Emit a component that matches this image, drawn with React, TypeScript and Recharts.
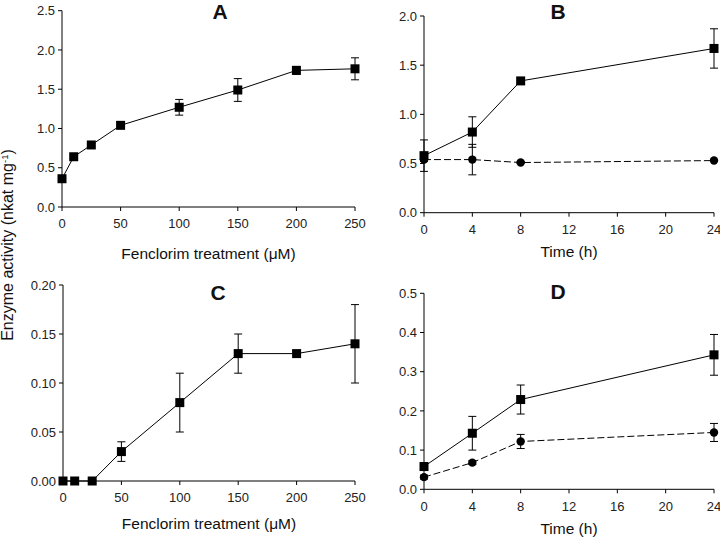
import React from 'react';
import { LineChart, Line, XAxis, YAxis, ErrorBar } from 'recharts';

// ---- Data ----
const doseX = [0, 10, 25, 50, 100, 150, 200, 250];
const doseTicks = [0, 50, 100, 150, 200, 250];
const activityA = [0.36, 0.64, 0.79, 1.04, 1.27, 1.49, 1.74, 1.76];
const errorA = [0.02, 0.02, 0.02, 0.04, 0.1, 0.145, 0.05, 0.14];
const activityC = [0, 0, 0, 0.03, 0.08, 0.13, 0.13, 0.14];
const errorC = [0, 0, 0, 0.01, 0.03, 0.02, 0, 0.04];

const timeX = [0, 4, 8, 24];
const timeTicks = [0, 4, 8, 12, 16, 20, 24];
const treatedB = [0.58, 0.82, 1.34, 1.67];
const treatedErrB = [0.16, 0.155, 0.03, 0.2];
const controlB = [0.54, 0.54, 0.51, 0.53];
const controlErrB = [0.02, 0.155, 0.01, 0.01];
const treatedD = [0.058, 0.143, 0.229, 0.343];
const treatedErrD = [0.01, 0.043, 0.037, 0.052];
const controlD = [0.031, 0.068, 0.122, 0.145];
const controlErrD = [0.005, 0.005, 0.018, 0.023];

const ticksA = [0, 0.5, 1.0, 1.5, 2.0, 2.5];
const ticksB = [0, 0.5, 1.0, 1.5, 2.0];
const ticksC = [0, 0.05, 0.1, 0.15, 0.2];
const ticksD = [0, 0.1, 0.2, 0.3, 0.4, 0.5];

const dataA = doseX.map((x, i) => ({ x, y: activityA[i], e: errorA[i] }));
const dataC = doseX.map((x, i) => ({ x, y: activityC[i], e: errorC[i] }));
const dataB = timeX.map((x, i) => ({ x, t: treatedB[i], te: treatedErrB[i], c: controlB[i], ce: controlErrB[i] }));
const dataD = timeX.map((x, i) => ({ x, t: treatedD[i], te: treatedErrD[i], c: controlD[i], ce: controlErrD[i] }));

const FONT = '"Liberation Sans", Arial, Helvetica, sans-serif';
const TICK = { fill: '#222', fontSize: 13, fontFamily: FONT };

const SquareDot = (props: any) => {
  const { cx, cy, index } = props;
  if (cx == null || cy == null) return <g key={`s${index}`} />;
  return <rect key={`s${index}`} x={cx - 4.5} y={cy - 4.5} width={9} height={9} fill="#000" />;
};

const CircleDot = (props: any) => {
  const { cx, cy, index } = props;
  if (cx == null || cy == null) return <g key={`c${index}`} />;
  return <circle key={`c${index}`} cx={cx} cy={cy} r={4.2} fill="#000" />;
};

type PanelProps = {
  left: number;
  top: number;
  plotLeft: number;
  plotRight: number;
  plotTop: number;
  plotBottom: number;
  data: any[];
  xDomain: [number, number];
  xTicks: number[];
  yDomain: [number, number];
  yTicks: number[];
  digits: number;
  children: React.ReactNode;
};

const W = 380;
const H = 268;

const Panel = (p: PanelProps) => (
  <div style={{ position: 'absolute', left: p.left, top: p.top, width: W, height: H }}>
    <LineChart
      width={W}
      height={H}
      data={p.data}
      margin={{ top: p.plotTop - p.top, right: p.left + W - p.plotRight, left: 0, bottom: 0 }}
    >
      <XAxis
        type="number"
        dataKey="x"
        domain={p.xDomain}
        ticks={p.xTicks}
        height={H - (p.plotBottom - p.top)}
        tick={TICK}
        tickSize={4}
        tickMargin={8}
        axisLine={{ stroke: '#000', strokeWidth: 1 }}
        tickLine={{ stroke: '#000', strokeWidth: 1 }}
        interval={0}
      />
      <YAxis
        type="number"
        domain={p.yDomain}
        ticks={p.yTicks}
        width={p.plotLeft - p.left}
        tick={TICK}
        tickSize={4}
        tickMargin={3}
        tickFormatter={(v: number) => v.toFixed(p.digits)}
        axisLine={{ stroke: '#000', strokeWidth: 1 }}
        tickLine={{ stroke: '#000', strokeWidth: 1 }}
        interval={0}
      />
      {p.children}
    </LineChart>
  </div>
);

const textBase: React.CSSProperties = {
  position: 'absolute',
  fontFamily: FONT,
  color: '#111',
  whiteSpace: 'nowrap',
  lineHeight: 1,
  transform: 'translate(-50%, -50%)',
};

const Txt = ({ x, y, size, bold, children }: { x: number; y: number; size: number; bold?: boolean; children: React.ReactNode }) => (
  <div style={{ ...textBase, left: x, top: y, fontSize: size, fontWeight: bold ? 700 : 400 }}>{children}</div>
);

export default function App() {
  return (
    <div style={{ position: 'absolute', left: 0, top: 0, width: 720, height: 538, background: '#fff', overflow: 'hidden' }}>
      {/* Panel A */}
      <Panel left={0} top={0} plotLeft={62} plotRight={355} plotTop={10.7} plotBottom={207}
        data={dataA} xDomain={[0, 250]} xTicks={doseTicks} yDomain={[0, 2.5]} yTicks={ticksA} digits={1}>
        <Line dataKey="y" stroke="#000" strokeWidth={1} dot={SquareDot} isAnimationActive={false}>
          <ErrorBar dataKey="e" width={4} stroke="#000" strokeWidth={1} direction="y" />
        </Line>
      </Panel>

      {/* Panel B */}
      <Panel left={360} top={0} plotLeft={424} plotRight={714} plotTop={16} plotBottom={212.7}
        data={dataB} xDomain={[0, 24]} xTicks={timeTicks} yDomain={[0, 2]} yTicks={ticksB} digits={1}>
        <Line dataKey="c" stroke="#000" strokeWidth={1} strokeDasharray="7 3" dot={CircleDot} isAnimationActive={false}>
          <ErrorBar dataKey="ce" width={4} stroke="#000" strokeWidth={1} direction="y" />
        </Line>
        <Line dataKey="t" stroke="#000" strokeWidth={1} dot={SquareDot} isAnimationActive={false}>
          <ErrorBar dataKey="te" width={4} stroke="#000" strokeWidth={1} direction="y" />
        </Line>
      </Panel>

      {/* Panel C */}
      <Panel left={0} top={270} plotLeft={63} plotRight={355} plotTop={285} plotBottom={481}
        data={dataC} xDomain={[0, 250]} xTicks={doseTicks} yDomain={[0, 0.2]} yTicks={ticksC} digits={2}>
        <Line dataKey="y" stroke="#000" strokeWidth={1} dot={SquareDot} isAnimationActive={false}>
          <ErrorBar dataKey="e" width={4} stroke="#000" strokeWidth={1} direction="y" />
        </Line>
      </Panel>

      {/* Panel D */}
      <Panel left={360} top={270} plotLeft={424} plotRight={714} plotTop={293.3} plotBottom={489.3}
        data={dataD} xDomain={[0, 24]} xTicks={timeTicks} yDomain={[0, 0.5]} yTicks={ticksD} digits={1}>
        <Line dataKey="c" stroke="#000" strokeWidth={1} strokeDasharray="7 3" dot={CircleDot} isAnimationActive={false}>
          <ErrorBar dataKey="ce" width={4} stroke="#000" strokeWidth={1} direction="y" />
        </Line>
        <Line dataKey="t" stroke="#000" strokeWidth={1} dot={SquareDot} isAnimationActive={false}>
          <ErrorBar dataKey="te" width={4} stroke="#000" strokeWidth={1} direction="y" />
        </Line>
      </Panel>

      {/* Panel letters */}
      <Txt x={220} y={11} size={21} bold>A</Txt>
      <Txt x={558} y={10.5} size={21} bold>B</Txt>
      <Txt x={218} y={292} size={21} bold>C</Txt>
      <Txt x={558} y={291} size={21} bold>D</Txt>

      {/* Axis titles */}
      <Txt x={208.5} y={254} size={15.5}>Fenclorim treatment (μM)</Txt>
      <Txt x={569} y={252} size={15.5}>Time (h)</Txt>
      <Txt x={209} y={524} size={15.5}>Fenclorim treatment (μM)</Txt>
      <Txt x={569} y={529} size={15.5}>Time (h)</Txt>

      {/* Shared y-axis title */}
      <div style={{ ...textBase, left: 8, top: 245, fontSize: 16, transform: 'translate(-50%, -50%) rotate(-90deg)' }}>
        Enzyme activity (nkat mg<sup style={{ fontSize: '0.6em', verticalAlign: '0.55em', lineHeight: 0 }}>-1</sup>)
      </div>
    </div>
  );
}
